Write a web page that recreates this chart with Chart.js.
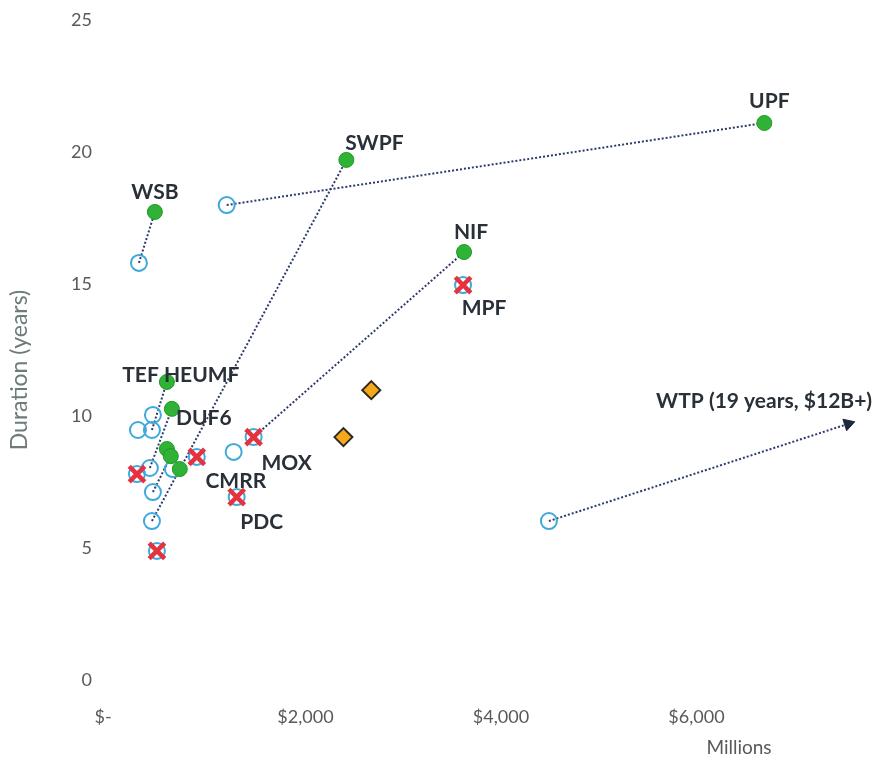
<!DOCTYPE html>
<html>
<head>
<meta charset="utf-8">
<script src="https://cdn.jsdelivr.net/npm/chart.js@4/dist/chart.umd.min.js"></script>
<style>
  html, body { margin: 0; padding: 0; background: #ffffff; }
  #wrap { width: 885px; height: 762px; position: relative; }
</style>
</head>
<body>
<div id="wrap"><canvas id="c" width="885" height="762"></canvas></div>
<script>
// ---------------- DATA ----------------
// Projects with their current estimate (green), earlier estimate (blue open circles)
const greenX = [6694, 2418, 459, 3622, 582, 633, 582, 622, 714];
const greenY = [21.1, 19.7, 17.73, 16.21, 11.29, 10.27, 8.75, 8.48, 7.99];
const greenNames = ['UPF', 'SWPF', 'WSB', 'NIF', 'TEF HEUMF', 'DUF6', '', '', ''];

const openX = [296, 1194, 4490, 1265, 439, 286, 429, 408, 439, 429, 643];
const openY = [15.8, 17.99, 6.02, 8.64, 10.04, 9.47, 9.47, 8.03, 7.12, 6.02, 7.99];

// Cancelled / terminated projects (red X)
const crossX = [3612, 1469, 888, 1296, 276, 480];
const crossY = [14.96, 9.2, 8.45, 6.93, 7.8, 4.89];
const crossNames = ['MPF', 'MOX', 'CMRR', 'PDC', '', ''];

// Other projects (orange diamonds)
const diamondX = [2673, 2388];
const diamondY = [10.98, 9.2];

// Links from earlier estimate to current estimate
const linkFromX = [296, 1194, 429, 429, 408, 439, 1469, 4490];
const linkFromY = [15.8, 17.99, 6.02, 9.47, 8.03, 7.12, 9.2, 6.02];
const linkToX = [459, 6694, 2418, 582, 633, 622, 3622, 7551];
const linkToY = [17.73, 21.1, 19.7, 11.29, 10.27, 8.48, 16.21, 9.7];

// WTP arrow end (off-scale project)
const arrowName = 'WTP (19 years, $12B+)';

// Axis ticks and titles
const xTickValues = [0, 2000, 4000, 6000];
const xTickLabels = ['$-   ', '$2,000', '$4,000', '$6,000'];
const yTickValues = [0, 5, 10, 15, 20, 25];
const yTitle = 'Duration (years)';
const xUnit = 'Millions';

// ---------------- STYLE ----------------
const LINK_COLOR = '#2d3a6e';
const LABEL_COLOR = '#2a3038';
const TICK_COLOR = '#595959';
const FONT_FAMILY = 'Lato, "Open Sans", sans-serif';
const labelFont = 'bold 21px ' + FONT_FAMILY;
// label offsets in pixels relative to their point (center of text)
const greenLabelOffsets = [[5, -22], [28, -17], [0, -20], [7, -20], [14, -7], [32, 9]];
const crossLabelOffsets = [[21, 23], [33, 26], [39, 24], [25, 25]];
const arrowLabelOffset = [-84, -23];
const titleStyle = { yTitleX: 20, yTitleY: 370, xUnitX: 739, xUnitY: 748 };

const toPts = (xs, ys) => xs.map((x, i) => ({ x: x, y: ys[i] }));

const datasets = [];

// dotted links
linkFromX.forEach((fx, i) => {
  datasets.push({
    type: 'line',
    data: [{ x: fx, y: linkFromY[i] }, { x: linkToX[i], y: linkToY[i] }],
    borderColor: LINK_COLOR,
    borderWidth: 2,
    borderDash: [2, 2],
    pointRadius: 0,
    fill: false,
    order: 10
  });
});

// arrow head at end of WTP link
const lastLink = linkFromX.length - 1;
datasets.push({
  type: 'scatter',
  data: [{ x: linkToX[lastLink], y: linkToY[lastLink] }],
  pointStyle: 'triangle',
  pointRadius: 7,
  rotation: 72,
  backgroundColor: '#1f2840',
  borderColor: '#1f2840',
  borderWidth: 1,
  order: 5
});

// open circles
datasets.push({
  type: 'scatter',
  data: toPts(openX, openY),
  pointStyle: 'circle',
  pointRadius: 8,
  borderWidth: 2,
  borderColor: '#3fa9dc',
  backgroundColor: 'rgba(255,255,255,0)',
  order: 6
});
// open circles under crosses
datasets.push({
  type: 'scatter',
  data: toPts(crossX, crossY),
  pointStyle: 'circle',
  pointRadius: 8,
  borderWidth: 2,
  borderColor: '#3fa9dc',
  backgroundColor: 'rgba(255,255,255,0)',
  order: 4
});
// red crosses
datasets.push({
  type: 'scatter',
  data: toPts(crossX, crossY),
  pointStyle: 'crossRot',
  pointRadius: 11,
  borderWidth: 4.5,
  borderColor: '#e6323e',
  backgroundColor: '#e6323e',
  order: 3
});
// orange diamonds
datasets.push({
  type: 'scatter',
  data: toPts(diamondX, diamondY),
  pointStyle: 'rectRot',
  pointRadius: 9,
  borderWidth: 2,
  borderColor: '#2e2a22',
  backgroundColor: '#f5a81c',
  order: 2
});
// green filled
datasets.push({
  type: 'scatter',
  data: toPts(greenX, greenY),
  pointStyle: 'circle',
  pointRadius: 7.5,
  borderWidth: 1,
  borderColor: '#1f9a25',
  backgroundColor: '#2fb236',
  order: 1
});

const labelPlugin = {
  id: 'pointLabels',
  afterDatasetsDraw(chart) {
    const ctx = chart.ctx;
    const xs = chart.scales.x, ys = chart.scales.y;
    ctx.save();
    ctx.font = labelFont;
    ctx.fillStyle = LABEL_COLOR;
    ctx.textAlign = 'center';
    ctx.textBaseline = 'middle';
    greenNames.forEach((n, i) => {
      if (!n) return;
      const o = greenLabelOffsets[i];
      ctx.fillText(n, xs.getPixelForValue(greenX[i]) + o[0], ys.getPixelForValue(greenY[i]) + o[1]);
    });
    crossNames.forEach((n, i) => {
      if (!n) return;
      const o = crossLabelOffsets[i];
      ctx.fillText(n, xs.getPixelForValue(crossX[i]) + o[0], ys.getPixelForValue(crossY[i]) + o[1]);
    });
    ctx.fillText(arrowName,
      xs.getPixelForValue(linkToX[lastLink]) + arrowLabelOffset[0],
      ys.getPixelForValue(linkToY[lastLink]) + arrowLabelOffset[1]);
    // x-axis unit title
    ctx.font = '19px ' + FONT_FAMILY;
    ctx.fillStyle = TICK_COLOR;
    ctx.fillText(xUnit, titleStyle.xUnitX, titleStyle.xUnitY);
    // y-axis title
    ctx.translate(titleStyle.yTitleX, titleStyle.yTitleY);
    ctx.rotate(-Math.PI / 2);
    ctx.font = '23px ' + FONT_FAMILY;
    ctx.fillStyle = '#6e7b7b';
    ctx.fillText(yTitle, 0, 0);
    ctx.restore();
  }
};

new Chart(document.getElementById('c'), {
  data: { datasets: datasets },
  plugins: [labelPlugin],
  options: {
    responsive: false,
    animation: false,
    layout: { padding: { top: 20, left: 0, right: 0, bottom: 0 } },
    plugins: { legend: { display: false }, tooltip: { enabled: false } },
    scales: {
      x: {
        type: 'linear',
        min: 0,
        max: 7770,
        grid: { display: false, drawTicks: false },
        border: { display: false },
        afterFit: s => { s.height = 82; },
        afterBuildTicks: s => { s.ticks = xTickValues.map(v => ({ value: v })); },
        ticks: {
          padding: 26,
          color: TICK_COLOR,
          font: { family: FONT_FAMILY, size: 18 },
          callback: v => xTickLabels[xTickValues.indexOf(v)]
        }
      },
      y: {
        type: 'linear',
        min: 0,
        max: 25,
        grid: { display: false, drawTicks: false },
        border: { display: false },
        afterFit: s => { s.width = 110; s.paddingTop = 8; s.paddingBottom = 8; },
        afterBuildTicks: s => { s.ticks = yTickValues.map(v => ({ value: v })); },
        ticks: {
          padding: 18,
          color: TICK_COLOR,
          font: { family: FONT_FAMILY, size: 18 }
        }
      }
    }
  }
});
</script>
</body>
</html>
